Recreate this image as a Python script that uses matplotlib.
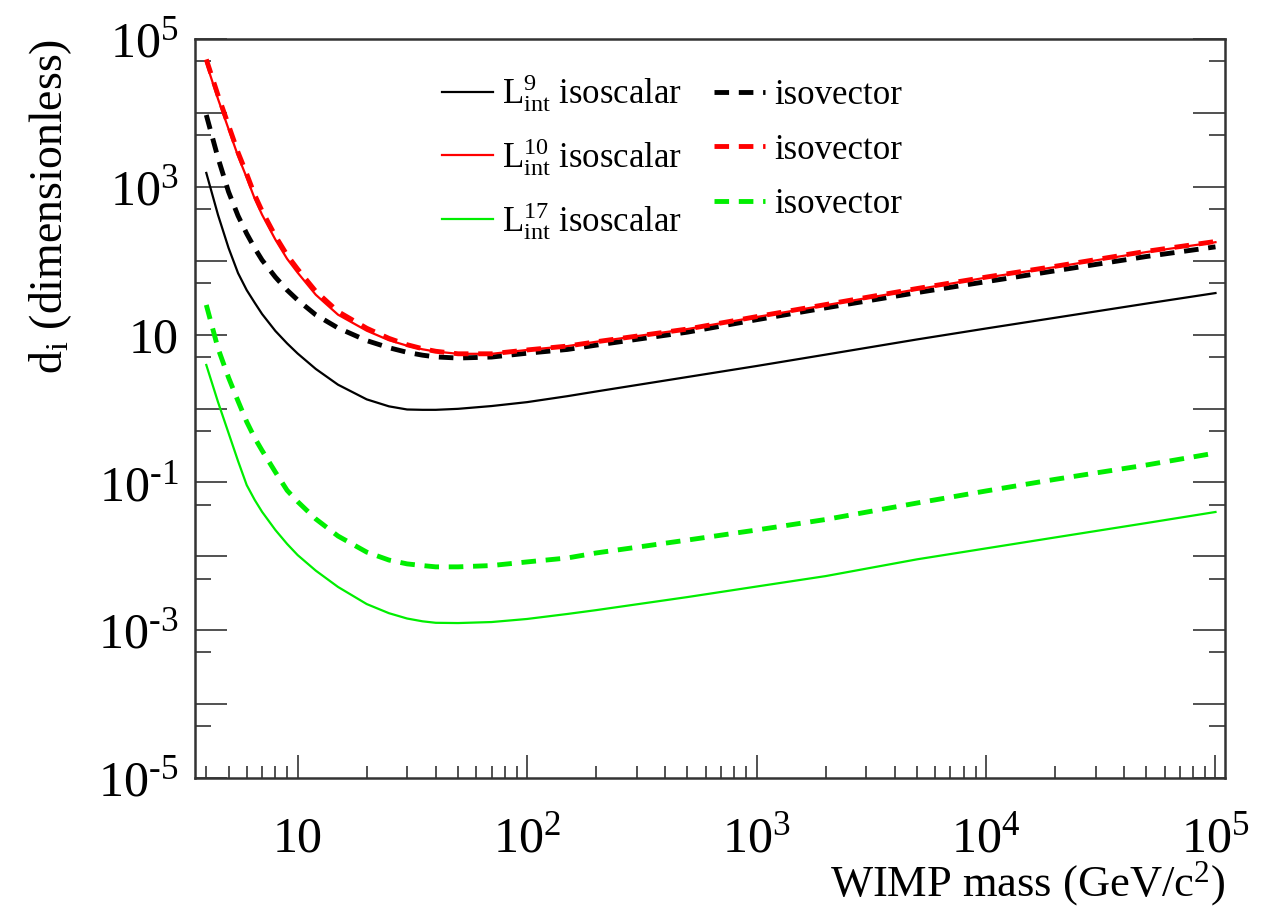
import matplotlib
matplotlib.use("Agg")
import matplotlib.pyplot as plt
from matplotlib.ticker import FixedLocator, FuncFormatter
import numpy as np

plt.rcParams['font.family'] = ['Liberation Serif', 'DejaVu Serif']
plt.rcParams['mathtext.fontset'] = 'custom'
plt.rcParams['mathtext.rm'] = 'Liberation Serif'
plt.rcParams['mathtext.it'] = 'Liberation Serif:italic'
plt.rcParams['mathtext.default'] = 'regular'

# WIMP mass (GeV/c^2)
mass = [4, 4.5, 5, 5.5, 6, 6.5, 7, 8, 9, 10, 12, 15, 20, 25, 30, 35, 40, 50, 70, 100,
        150, 200, 500, 1000, 2000, 5000, 1e4, 2e4, 5e4, 1e5]

# L9 interaction
l9_scalar = [1540, 415, 149, 68, 40, 27, 19, 11.2, 7.6, 5.55, 3.43, 2.10, 1.33, 1.07, 0.97,
             0.96, 0.96, 0.99, 1.08, 1.22, 1.47, 1.70, 2.67, 3.76, 5.36, 8.6, 12.1, 16.9,
             26.3, 36.5]
l9_vector = [9370, 2450, 855, 405, 232, 148, 102, 60, 40, 29.4, 18.5, 12.3, 8.3, 6.65, 5.76,
             5.27, 4.99, 4.82, 4.97, 5.6, 6.3, 7.2, 10.8, 15.9, 23, 37, 52, 73, 114, 154]

# L10 interaction
l10_scalar = [47300, 15400, 6060, 2610, 1330, 692, 419, 193, 106, 69, 34.6, 18.6, 11.3, 8.4,
              7.08, 6.33, 5.9, 5.5, 5.5, 6.2, 7.0, 8.0, 11.9, 17.3, 25, 41, 59, 82, 131, 178]
l10_vector = [53000, 17300, 6800, 2920, 1490, 775, 470, 216, 119, 77, 38.5, 20.5, 12.2, 8.9,
              7.3, 6.45, 5.95, 5.5, 5.5, 6.2, 7.0, 8.0, 11.9, 17.5, 25.5, 42, 60, 84, 134, 182]

# L17 interaction
l17_scalar = [3.88, 1.22, 0.466, 0.195, 0.092, 0.058, 0.040, 0.0227, 0.0147, 0.0104, 0.0064,
              0.00385, 0.00226, 0.0017, 0.00144, 0.00132, 0.00126, 0.00125, 0.00129, 0.00142,
              0.00166, 0.00187, 0.00281, 0.0039, 0.0054, 0.0091, 0.0128, 0.0180, 0.0282, 0.0398]
l17_vector = [25.2, 6.5, 2.62, 1.26, 0.66, 0.40, 0.27, 0.138, 0.078, 0.055, 0.032, 0.0188,
              0.0114, 0.0089, 0.0079, 0.0075, 0.0072, 0.0072, 0.0075, 0.0084, 0.0095, 0.0111,
              0.0166, 0.0227, 0.0315, 0.0526, 0.0766, 0.110, 0.172, 0.25]

black = '#000000'
red = '#ff0000'
green = '#00ee00'

fig = plt.figure(figsize=(12.71, 9.07), dpi=100)
ax = fig.add_axes([0.1534, 0.1422, 0.9638 - 0.1534, 0.957 - 0.1422])

solid_lw = 1.6
dash_lw = 3.5
dash = (0, (3.0, 2.0))

h1, = ax.plot(mass, l9_scalar, color=black, lw=solid_lw)
h2, = ax.plot(mass, l10_scalar, color=red, lw=solid_lw, zorder=3)
h3, = ax.plot(mass, l17_scalar, color=green, lw=solid_lw)
h4, = ax.plot(mass, l9_vector, color=black, lw=dash_lw, ls=dash)
h5, = ax.plot(mass, l10_vector, color=red, lw=dash_lw, ls=dash)
h6, = ax.plot(mass, l17_vector, color=green, lw=dash_lw, ls=dash)

ax.set_xscale('log')
ax.set_yscale('log')
ax.set_xlim(3.57, 1.1e5)
ax.set_ylim(1e-5, 1e5)

def log_label(v, pos):
    n = int(round(np.log10(v)))
    if n == 1:
        return '10'
    if n < 0:
        return r'$\mathregular{10^{\text{-}%d}}$' % (-n)
    return r'$\mathregular{10^{%d}}$' % n

ax.xaxis.set_major_locator(FixedLocator([10, 1e2, 1e3, 1e4, 1e5]))
ax.xaxis.set_minor_locator(FixedLocator([k * 10.0 ** e for e in range(0, 5) for k in range(2, 10)]))
ax.xaxis.set_major_formatter(FuncFormatter(log_label))
ax.xaxis.set_minor_formatter(FuncFormatter(lambda v, p: ''))

ax.yaxis.set_major_locator(FixedLocator([10.0 ** e for e in range(-5, 6)]))
ax.yaxis.set_minor_locator(FixedLocator([5 * 10.0 ** e for e in range(-6, 5)]))
ax.yaxis.set_major_formatter(FuncFormatter(
    lambda v, p: log_label(v, p) if int(round(np.log10(v))) % 2 != 0 else ''))
ax.yaxis.set_minor_formatter(FuncFormatter(lambda v, p: ''))

tick_col = '#333333'
ax.tick_params(axis='x', which='major', direction='in', length=16.5, width=1.2,
               top=False, labelsize=36, pad=53, color=tick_col)
ax.tick_params(axis='x', which='minor', direction='in', length=8.5, width=1.2,
               top=False, color=tick_col)
ax.tick_params(axis='y', which='major', direction='in', length=23, width=1.2,
               right=True, labelsize=36, pad=12, color=tick_col)
ax.tick_params(axis='y', which='minor', direction='in', length=11.5, width=1.2,
               right=True, color=tick_col)
for t in ax.xaxis.get_major_ticks():
    t.label1.set_verticalalignment('baseline')

for s in ax.spines.values():
    s.set_linewidth(1.8)
    s.set_color(tick_col)

ax.set_xlabel(r'WIMP mass (GeV/c$^{2}$)', fontsize=32, loc='right')
ax.xaxis.set_label_coords(1.0, -0.110)
ax.set_ylabel(r'd$_{\mathregular{i}}$ (dimensionless)', fontsize=33, loc='top')
ax.yaxis.set_label_coords(-0.117, 1.0)

labels = [r'$\mathregular{L^{9}_{int}}$ isoscalar',
          r'$\mathregular{L^{10}_{int}}$ isoscalar',
          r'$\mathregular{L^{17}_{int}}$ isoscalar',
          'isovector', 'isovector', 'isovector']
ax.legend([h1, h2, h3, h4, h5, h6], labels, ncol=2, frameon=False, fontsize=25,
          loc='upper left', bbox_to_anchor=(0.240, 0.955), handlelength=1.45,
          handletextpad=0.26, columnspacing=0.95, labelspacing=0.63, borderaxespad=0,
          borderpad=0)

fig.savefig('out.png', dpi=100)
